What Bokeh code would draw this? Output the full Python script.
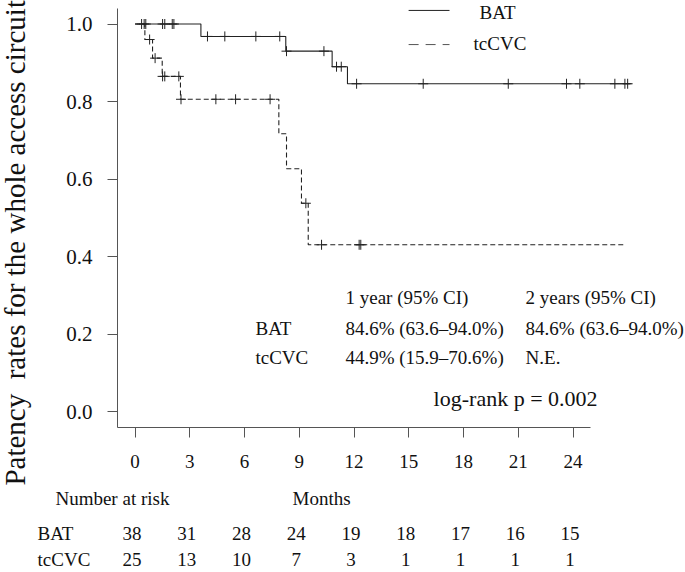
import numpy as np
from bokeh.plotting import figure
from bokeh.models import Label, LabelSet, ColumnDataSource, FixedTicker, NumeralTickFormatter
from bokeh.core.properties import value
from bokeh.embed import file_html
from bokeh.resources import INLINE

# ---- data (months, survival) ----
bat_time = [0.0, 3.61, 8.26, 10.80, 11.64, 27.20]
bat_surv = [1.0, 0.968, 0.930, 0.890, 0.846, 0.846]
bat_cens = [0.36, 0.50, 0.59, 1.51, 1.63, 2.04, 2.13, 3.97, 4.92, 6.62, 7.93, 8.30,
            10.35, 11.04, 11.30, 12.14, 15.79, 20.45, 23.64, 24.37, 26.29, 26.84, 26.99]

tc_time = [0.0, 0.54, 0.96, 1.49, 2.49, 7.88, 8.30, 9.12, 9.49, 26.80]
tc_surv = [1.0, 0.960, 0.912, 0.865, 0.806, 0.717, 0.627, 0.538, 0.431, 0.431]
tc_cens = [0.80, 1.10, 1.51, 1.63, 2.40, 2.52, 4.43, 5.51, 7.40, 9.36, 10.22, 12.28, 12.37]

risk_months = [0, 3, 6, 9, 12, 15, 18, 21, 24]
risk_bat = [38, 31, 28, 24, 19, 18, 17, 16, 15]
risk_tc = [25, 13, 10, 7, 3, 1, 1, 1, 1]

y_ticks = [0.0, 0.2, 0.4, 0.6, 0.8, 1.0]
group_names = ["BAT", "tcCVC"]

table_header = ["1 year (95% CI)", "2 years (95% CI)"]
table_bat = ["84.6% (63.6\u201394.0%)", "84.6% (63.6\u201394.0%)"]
table_tc = ["44.9% (15.9\u201370.6%)", "N.E."]
logrank_text = "log-rank p = 0.002"
y_label = "Patency \u00a0rates for the whole access circuit"

FONT = "Liberation Serif"
INK = "#111111"
CURVE = "#222222"
AXIS = "#555555"

X0, X1 = -0.96, 24.96     # axis extents (R style 4% padding)
Y0, Y1 = -0.04, 1.04


def at(times, surv, c):
    idx = np.searchsorted(np.asarray(times), np.asarray(c), side="right") - 1
    return list(np.asarray(surv)[idx])


p = figure(width=685, height=572, x_range=(-7.37, 30.16), y_range=(-0.4137, 1.0606),
           output_backend="svg", toolbar_location=None, min_border=0)
p.outline_line_color = None
p.xgrid.visible = False
p.ygrid.visible = False
p.background_fill_color = "white"
p.border_fill_color = "white"

# axes, placed at the padded data origin
p.xaxis.fixed_location = Y0
p.yaxis.fixed_location = X0
p.xaxis.ticker = FixedTicker(ticks=risk_months)
p.xaxis.bounds = (X0, X1)
p.yaxis.ticker = FixedTicker(ticks=y_ticks)
p.yaxis.bounds = (Y0, Y1)
p.yaxis.formatter = NumeralTickFormatter(format="0.0")
for ax in (p.xaxis, p.yaxis):
    ax.axis_line_color = AXIS
    ax.major_tick_line_color = AXIS
    ax.minor_tick_line_color = None
    ax.major_tick_in = 0
    ax.major_tick_out = 10
    ax.major_label_text_font = FONT
    ax.major_label_text_color = INK
p.xaxis.major_label_text_font_size = "19px"
p.xaxis.major_label_standoff = 17
p.yaxis.major_label_text_font_size = "21px"
p.yaxis.major_label_standoff = 15

# curves
p.step(bat_time, bat_surv, mode="after", line_color=CURVE, line_width=1.1)
p.step(tc_time, tc_surv, mode="after", line_color=CURVE, line_width=1.1,
       line_dash="5 3")
p.scatter(bat_cens, at(bat_time, bat_surv, bat_cens), marker="cross", size=10,
          line_color=CURVE, line_width=1)
p.scatter(tc_cens, at(tc_time, tc_surv, tc_cens), marker="cross", size=10,
          line_color=CURVE, line_width=1)

# legend (top right of the plot area)
p.segment(x0=[14.99], y0=[1.035], x1=[17.23], y1=[1.035], line_color=CURVE, line_width=1)
p.segment(x0=[14.99], y0=[0.947], x1=[17.23], y1=[0.947], line_color=AXIS, line_width=1,
          line_dash="10 7")


def lab(x, y, t, size="19px", align="left"):
    p.add_layout(Label(x=x, y=y, text=t, text_font=FONT, text_font_size=size,
                       text_color=INK, text_baseline="middle", text_align=align))


lab(18.88, 1.030, group_names[0])
lab(18.55, 0.950, group_names[1])

# summary table inside the plot
lab(11.53, 0.295, table_header[0])
lab(21.40, 0.295, table_header[1])
lab(6.60, 0.215, group_names[0])
lab(11.53, 0.215, table_bat[0])
lab(21.40, 0.215, table_bat[1])
lab(6.60, 0.140, group_names[1])
lab(11.53, 0.140, table_tc[0])
lab(21.40, 0.140, table_tc[1])
lab(16.36, 0.035, logrank_text, size="22px")

# y axis title
p.add_layout(Label(x=-6.55, y=0.436, text=y_label, angle=90, angle_units="deg",
                   text_font=FONT, text_font_size="29px", text_color=INK,
                   text_align="center", text_baseline="middle"))

# number at risk table below the axis
ROW_BAT, ROW_TC = -0.312, -0.381
lab(-4.36, -0.223, "Number at risk")
lab(8.63, -0.223, "Months")
lab(-5.34, ROW_BAT, group_names[0])
lab(-5.34, ROW_TC, group_names[1])

src = ColumnDataSource(dict(
    t=risk_months + risk_months,
    y=[ROW_BAT] * len(risk_months) + [ROW_TC] * len(risk_months),
    n=[str(v) for v in risk_bat] + [str(v) for v in risk_tc],
))
p.add_layout(LabelSet(x="t", y="y", text="n", source=src, x_offset=-3,
                      text_font=value(FONT), text_font_size=value("19px"),
                      text_color=value(INK), text_align="center",
                      text_baseline="middle"))

open("out.html", "w").write(file_html(p, INLINE))
